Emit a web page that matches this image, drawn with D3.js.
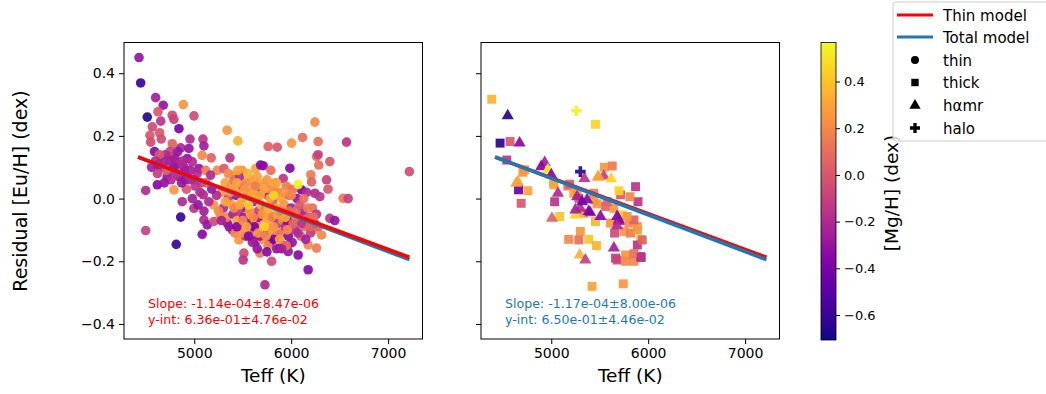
<!DOCTYPE html>
<html>
<head>
<meta charset="utf-8">
<script src="https://cdn.jsdelivr.net/npm/d3@7"></script>
<style>
  body { margin: 0; background: #fff; }
  svg { font-family: "DejaVu Sans", sans-serif; }
</style>
</head>
<body>
<div id="chart"></div>
<script>
// [Teff, residual, [Mg/H]]
const thinPts = [
  [4430,0.45,-0.3],[4447,0.369,-0.6],[4602,0.322,-0.25],[4680,0.298,-0.3],[4887,0.30,0.25],
  [4515,0.26,-0.65],[4626,0.277,0.0],[4654,0.247,-0.15],[4773,0.266,-0.05],[4790,0.253,-0.1],
  [4997,0.264,-0.05],[4842,0.223,-0.4],[4567,0.229,-0.05],[4543,0.202,0.0],[4643,0.21,0.0],
  [4660,0.19,-0.05],[4550,0.18,-0.05],[4956,0.19,-0.2],[5090,0.19,-0.15],[4773,0.175,0.05],
  [4860,0.162,-0.2],[4945,0.16,-0.3],[5100,0.168,-0.25],[5340,0.218,0.25],[5450,0.184,0.35],
  [5175,0.13,0.05],[5082,0.138,0.2],[5368,0.13,-0.15],[4670,0.128,-0.35],[4757,0.133,-0.2],
  [4808,0.117,-0.15],[4619,0.107,-0.4],[4715,0.112,0.2],[4928,0.128,-0.3],[4980,0.117,-0.2],
  [4894,0.10,-0.25],[5048,0.096,-0.3],[5117,0.09,0.15],[5237,0.09,0.2],[5306,0.096,0.0],
  [5169,0.075,-0.2],[5409,0.075,0.3],[5495,0.09,0.25],[5633,0.096,0.3],[5684,0.107,-0.35],
  [5763,0.166,0.05],[5856,0.164,0.0],
  [4499,0.026,-0.2],[4619,0.044,-0.35],[4790,0.028,0.25],[4876,-0.01,-0.2],[4997,-0.031,-0.15],
  [4860,-0.059,-0.6],[4499,-0.102,-0.1],[4814,-0.146,-0.6],[5100,-0.068,-0.2],[5082,-0.114,-0.35],
  [5134,-0.084,-0.3],[5203,-0.073,-0.05],[5272,-0.057,0.2],[5340,-0.078,-0.3],[5461,-0.132,0.25],
  [5512,-0.174,-0.05],[5505,-0.196,-0.15],[5392,-0.1,-0.2],[5581,-0.094,-0.3],[5633,-0.137,-0.3],
  [5729,-0.275,-0.2],[5093,0.012,-0.2],
  [6536,0.001,0.15],[6588,0.0,-0.1],[6399,-0.063,-0.15],[6450,-0.07,-0.3],[6313,-0.116,0.2],
  [6262,-0.158,0.15],[6175,-0.148,0.2],[6072,-0.18,-0.35],[6175,-0.227,-0.35],[5798,-0.2,-0.05],
  [5969,-0.169,-0.3],[5677,-0.174,0.15],[5884,-0.158,-0.35],[5969,-0.148,-0.15],[6227,-0.1,0.2],
  [6245,0.244,0.2],[6571,0.18,-0.15],[6117,0.195,0.1],[6004,0.177,0.25],[6278,0.182,0.1],
  [6262,0.134,0.1],[6278,0.14,-0.1],[6399,0.118,0.0],[6285,0.107,0.1],[5987,0.097,-0.35],
  [5711,0.105,-0.35],[7220,0.086,-0.05],[6203,0.076,0.15],[6365,0.06,-0.1],[6210,0.053,0.05],
  [5918,0.064,-0.15],[5791,0.09,0.1],[6107,0.028,-0.4],[6380,0.03,0.0],[6245,0.017,-0.2],
  [6296,0.006,-0.15],
  // left group along the fit
  [4680,0.10,-0.25],[4720,0.07,-0.3],[4770,0.09,-0.2],[4800,0.13,-0.25],[4840,0.07,-0.3],
  [4880,0.12,-0.2],[4910,0.06,-0.3],[4960,0.09,-0.25],[5000,0.06,-0.3],[5030,0.08,-0.2],
  [5070,0.05,-0.15],[4750,0.15,-0.1],[4830,0.15,-0.3],[4700,0.14,-0.2],[4560,0.10,-0.25],
  [4590,0.15,-0.35],
  // dense cluster
  [5280,0.02,0.25],[5300,-0.03,-0.2],[5320,0.05,0.3],[5330,-0.06,0.2],[5350,0.00,-0.1],
  [5360,-0.09,-0.3],[5380,0.04,0.25],[5390,-0.02,0.3],[5400,-0.05,-0.25],[5410,0.06,0.1],
  [5420,-0.11,0.2],[5430,0.01,-0.3],[5440,-0.07,0.3],[5450,0.03,0.25],[5460,-0.04,-0.15],
  [5470,0.07,-0.2],[5480,-0.09,0.25],[5490,-0.01,0.35],[5500,0.04,0.0],[5510,-0.06,-0.3],
  [5520,0.00,0.3],[5530,-0.12,-0.2],[5540,0.05,0.2],[5550,-0.03,0.3],[5560,-0.08,-0.35],
  [5570,0.02,0.15],[5580,-0.05,0.3],[5590,0.06,0.25],[5600,-0.10,0.1],[5610,-0.01,-0.25],
  [5620,0.03,0.3],[5630,-0.07,0.25],[5640,-0.13,-0.3],[5650,0.00,0.25],[5660,-0.04,-0.1],
  [5670,0.05,0.3],[5680,-0.09,0.2],[5690,-0.02,0.35],[5700,0.02,-0.3],[5710,-0.06,0.3],
  [5720,-0.11,-0.2],[5730,0.04,0.25],[5740,-0.03,0.1],[5750,-0.08,0.3],[5760,0.01,-0.25],
  [5770,-0.05,0.3],[5780,-0.14,-0.3],[5790,0.03,0.2],[5800,-0.10,0.25],[5810,-0.01,0.0],
  [5820,-0.06,-0.3],[5830,0.05,0.3],[5840,-0.12,0.2],[5850,-0.03,0.3],[5860,-0.08,-0.15],
  [5870,0.02,0.25],[5880,-0.05,-0.35],[5890,-0.11,0.1],[5900,0.00,0.3],[5910,-0.07,0.2],
  [5920,-0.15,-0.3],[5930,-0.02,0.25],[5940,-0.09,-0.2],[5950,0.04,0.15],[5960,-0.05,0.3],
  [5970,-0.12,-0.35],[5980,0.01,0.0],[5990,-0.08,0.25],[6000,-0.03,-0.25],[6010,-0.14,-0.3],
  [6020,0.03,0.1],[6030,-0.06,0.2],[6040,-0.10,-0.15],[6060,0.00,-0.3],[6080,-0.07,0.15],
  [6100,-0.12,0.05],[6120,-0.04,-0.25],[6140,-0.09,0.1],[6160,0.02,-0.2],[6180,-0.06,0.0],
  [6200,-0.11,-0.1],[6220,-0.03,0.1],[6240,-0.08,-0.3],[6260,-0.05,-0.15],[6280,-0.09,0.05],
  [5350,0.08,0.2],[5450,0.09,0.3],[5550,0.08,0.35],[5650,0.07,0.3],[5750,0.06,0.25],
  [5850,0.05,0.3],[5700,-0.13,0.25],[5600,-0.14,-0.25],[5500,-0.11,0.25],[5650,-0.16,-0.3],
  [5760,-0.15,0.2],[5850,-0.16,-0.3],[5950,-0.15,0.1],[5280,-0.07,-0.25],[5250,-0.04,0.2],
  [5230,0.01,-0.2],[5200,-0.02,0.25],[5180,0.03,-0.3],[5150,-0.01,-0.2],[5120,0.05,0.0],
  [5100,-0.04,-0.25],[5060,0.02,-0.2],[5040,-0.02,-0.3],[5010,0.04,-0.15],[4980,0.00,-0.25],
  [4950,0.06,-0.2],[4920,0.03,0.0],[4900,0.09,-0.25],[4870,0.05,-0.3],[4850,0.11,-0.2],
  [4820,0.08,-0.15],[4790,0.10,-0.3],[4760,0.06,-0.2],[4740,0.12,-0.25],[4710,0.09,0.05],
  [4690,0.05,-0.3],[4660,0.11,-0.2],[4640,0.14,0.0],[4620,0.08,-0.1],[4600,0.12,-0.2],
  [5560,-0.12,-0.35],[5620,-0.09,-0.4],[5680,-0.12,-0.3],[5750,-0.17,-0.35],[5820,-0.13,-0.4],
  [5900,-0.16,-0.25],[5960,-0.07,-0.35],[5660,-0.06,-0.3],[5540,-0.03,-0.3],[5440,-0.09,-0.35],
  [5320,-0.01,0.3],[5370,0.02,0.25],[5410,-0.03,0.2],[5440,0.05,0.3],[5470,-0.02,0.3],
  [5500,-0.07,0.2],[5520,0.03,0.25],[5540,-0.09,0.3],[5570,-0.04,0.25],[5590,0.01,0.3],
  [5610,-0.06,0.2],[5630,0.04,0.15],[5660,-0.11,0.25],[5680,0.01,0.3],[5700,-0.05,0.25],
  [5720,0.03,0.3],[5740,-0.12,0.2],[5760,-0.03,0.35],[5780,0.00,0.3],[5800,-0.06,0.2],
  [5820,-0.09,0.25],[5840,0.02,0.2],[5860,-0.05,0.3],[5880,-0.13,0.25],[5900,-0.04,0.15],
  [5920,0.02,0.25],[5940,-0.06,0.3],[5960,-0.10,0.2],[5980,-0.04,0.1],[6000,0.01,0.2],
  [6020,-0.08,0.05],[6050,-0.04,0.1],[6070,-0.11,-0.2],[6090,-0.02,0.0],[6110,-0.08,-0.15],
  [6130,0.00,0.1],[6150,-0.13,-0.25],[6170,-0.03,0.15],[6190,-0.09,0.05],[6230,-0.06,0.1],
  [5560,-0.02,0.45],[5720,-0.09,0.45],[5820,0.01,0.45],[6072,0.045,0.55]
];

const thickPts = [
  [4386,0.317,0.35],[4472,0.177,-0.65],[4575,0.182,0.0],[4541,0.123,-0.15],[4724,0.092,0.25],
  [4662,0.028,-0.45],[4759,0.025,0.3],[4689,-0.015,0.0],[5035,-0.01,-0.15],[5028,0.044,0.3],
  [5087,-0.057,0.4],[5456,0.237,0.45],[5549,0.1,0.25],[5629,0.104,0.15],[5170,0.04,0.15],
  [5232,0.017,0.3],[5336,-0.047,0.3],[5456,-0.073,0.35],[5439,0.017,0.15],[5473,-0.017,0.25],
  [5560,-0.025,0.05],[5646,-0.031,0.25],[5715,0.012,0.0],[5698,0.025,0.45],[5870,0.038,-0.15],
  [5895,-0.01,-0.15],[5812,0.006,0.2],[5611,-0.078,0.25],[5733,-0.052,0.45],[5802,-0.078,0.2],
  [5888,-0.089,0.25],[5653,-0.11,-0.05],[5750,-0.105,0.25],[5818,-0.11,0.15],[5922,-0.13,0.4],
  [5180,-0.13,0.2],[5300,-0.105,0.25],[5284,-0.132,0.1],[5387,-0.13,0.4],[5466,-0.15,0.35],
  [5680,-0.196,-0.05],[5767,-0.18,0.25],[5767,-0.2,0.2],[5853,-0.2,0.2],[5922,-0.185,-0.2],
  [5853,-0.176,0.1],[5421,-0.28,0.3],[5743,-0.272,0.25],[5663,-0.19,-0.1],[5888,-0.148,-0.15],
  [5853,-0.068,0.05],[5783,-0.057,0.25],[5577,-0.01,0.05],[5439,-0.004,0.25],[5266,0.017,0.25],
  [5284,0.001,0.0],[4707,0.084,0.25],[5025,0.049,0.3],[5190,0.046,0.0],[5929,-0.188,-0.15],
  [5939,-0.132,0.05],[5888,-0.1,0.25]
];

const hamrPts = [
  [4551,0.264,-0.65],[4673,0.177,-0.35],[4932,0.115,-0.25],[4896,0.102,-0.35],[4966,0.092,0.5],
  [5000,0.076,-0.35],[4655,0.054,0.3],[5069,0.017,-0.2],[5007,-0.063,0.05],[5342,0.064,-0.15],
  [5480,0.07,0.3],[5542,0.072,-0.1],[5618,0.063,0.45],[5266,0.006,-0.25],[5370,-0.004,-0.35],
  [5300,-0.031,-0.2],[5249,-0.052,0.45],[5404,-0.045,-0.25],[5508,-0.057,-0.35],[5680,-0.057,-0.4],
  [5698,-0.073,-0.2],[5294,-0.18,0.35],[5352,-0.196,-0.1],[5646,-0.158,-0.25],[4638,0.049,0.3],
  [5491,0.068,0.3],[5318,-0.01,-0.4],[5249,-0.036,-0.25],[5387,-0.041,-0.4],[5698,-0.068,-0.35],
  [5680,-0.087,-0.2]
];

const haloPts = [[5259,0.28,0.55],[5300,0.086,-0.65]];

// fits: [slope, intercept]
const thinFit = [-1.14e-4, 0.636];
const totalFit = [-1.17e-4, 0.650];
const fitTeff = [4420, 7220];
const thinText = ["Slope: -1.14e-04\u00b18.47e-06", "y-int: 6.36e-01\u00b14.76e-02"];
const totalText = ["Slope: -1.17e-04\u00b18.00e-06", "y-int: 6.50e-01\u00b14.46e-02"];

const xTicks = [5000, 6000, 7000];
const yTicks = [-0.4, -0.2, 0.0, 0.2, 0.4];
const cbTicks = [-0.6, -0.4, -0.2, 0.0, 0.2, 0.4];
const legendLabels = ["Thin model", "Total model", "thin", "thick", "h\u03b1mr", "halo"];

const W = 1046, H = 394;
const RED = "#ff0000", BLUE = "#1f77b4";
const fmt = d => d3.format(".1f")(d).replace("-", "\u2212");

const svg = d3.select("#chart").append("svg").attr("width", W).attr("height", H);

const panels = [
  { left: 124, labels: true, text: thinText, tcol: RED, tx: 148, redTop: true },
  { left: 481, labels: false, text: totalText, tcol: BLUE, tx: 505, redTop: false }
];
const pw = 298.5, axTop = 42.5, ph = 296.5;

const color = d3.scaleSequential(d3.interpolatePlasma).domain([-0.707, 0.567]);
const rightSets = [thickPts, hamrPts, haloPts];
const shapes = [d3.symbolSquare, d3.symbolTriangle, d3.symbolCross];
const sizes = [80, 64, 62];

panels.forEach((p, pi) => {
  const x = d3.scaleLinear().domain([4275, 7355]).range([0, pw]);
  const y = d3.scaleLinear().domain([-0.448, 0.498]).range([ph, 0]);
  const g = svg.append("g").attr("transform", `translate(${p.left},${axTop})`);

  if (pi === 0) {
    g.selectAll("circle").data(thinPts).enter().append("circle")
      .attr("cx", d => x(d[0])).attr("cy", d => y(d[1])).attr("r", 4.8)
      .attr("fill", d => color(d[2])).attr("fill-opacity", 0.92);
  } else {
    rightSets.forEach((arr, k) => {
      g.selectAll(".s" + k).data(arr).enter().append("path")
        .attr("class", "s" + k)
        .attr("d", d3.symbol().type(shapes[k]).size(sizes[k]))
        .attr("transform", d => `translate(${x(d[0])},${y(d[1])})`)
        .attr("fill", d => color(d[2])).attr("fill-opacity", 0.92);
    });
  }

  const line = fit => d3.line()(fitTeff.map(t => [x(t), y(fit[0] * t + fit[1])]));
  const order = p.redTop ? [[totalFit, BLUE], [thinFit, RED]] : [[thinFit, RED], [totalFit, BLUE]];
  order.forEach(o => {
    g.append("path").attr("d", line(o[0])).attr("stroke", o[1])
      .attr("stroke-width", 3.6).attr("fill", "none");
  });

  p.text.forEach((t, i) => {
    g.append("text").attr("x", p.tx - p.left).attr("y", 265.5 + i * 15.5)
      .attr("fill", p.tcol).attr("font-size", 12.6).text(t);
  });

  g.append("rect").attr("width", pw).attr("height", ph)
    .attr("fill", "none").attr("stroke", "#000").attr("stroke-width", 1);

  const xa = g.append("g").attr("transform", `translate(0,${ph})`)
    .call(d3.axisBottom(x).tickValues(xTicks).tickSize(5).tickPadding(4).tickFormat(d3.format("d")));
  const ya = g.append("g")
    .call(d3.axisLeft(y).tickValues(yTicks).tickSize(5).tickPadding(4).tickFormat(p.labels ? fmt : ""));
  [xa, ya].forEach(a => {
    a.select(".domain").remove();
    a.selectAll("text").attr("font-size", 14).attr("font-family", "DejaVu Sans").attr("fill", "#000");
    a.selectAll("line").attr("stroke", "#000");
  });

  g.append("text").attr("x", pw / 2).attr("y", 339).attr("text-anchor", "middle")
    .attr("font-size", 18.5).text("Teff (K)");
});

svg.append("text").attr("transform", "translate(27,191) rotate(-90)")
  .attr("text-anchor", "middle").attr("font-size", 19).text("Residual [Eu/H] (dex)");

// colorbar
const cbX = 821, cbW = 15, cbTop = 42.5, cbH = 297.5;
const cy = d3.scaleLinear().domain([-0.707, 0.567]).range([cbTop + cbH, cbTop]);
const grad = svg.append("defs").append("linearGradient").attr("id", "cbg")
  .attr("x1", 0).attr("y1", 1).attr("x2", 0).attr("y2", 0);
d3.range(0, 1.0001, 0.02).forEach(t => {
  grad.append("stop").attr("offset", t).attr("stop-color", d3.interpolatePlasma(t));
});
svg.append("rect").attr("x", cbX).attr("y", cbTop).attr("width", cbW).attr("height", cbH)
  .attr("fill", "url(#cbg)").attr("stroke", "#000").attr("stroke-width", 0.8);
const cba = svg.append("g").attr("transform", `translate(${cbX + cbW},0)`)
  .call(d3.axisRight(cy).tickValues(cbTicks).tickSize(4).tickPadding(4).tickFormat(fmt));
cba.select(".domain").remove();
cba.selectAll("text").attr("font-size", 13).attr("font-family", "DejaVu Sans").attr("fill", "#000");
cba.selectAll("line").attr("stroke", "#000");
svg.append("text").attr("transform", "translate(898,193) rotate(-90)")
  .attr("text-anchor", "middle").attr("font-size", 18.5).text("[Mg/H] (dex)");

// legend
const lg = svg.append("g").attr("transform", "translate(893,2)");
lg.append("rect").attr("width", 170).attr("height", 139).attr("rx", 3)
  .attr("fill", "#fff").attr("fill-opacity", 0.8).attr("stroke", "#ccc");
const legendShapes = [null, null, d3.symbolCircle, d3.symbolSquare, d3.symbolTriangle, d3.symbolCross];
const legendY = [13, 35, 58, 80.5, 103.5, 126];
legendLabels.forEach((lab, i) => {
  const yy = legendY[i];
  if (i < 2) {
    lg.append("line").attr("x1", 4).attr("x2", 40).attr("y1", yy).attr("y2", yy)
      .attr("stroke", i === 0 ? RED : BLUE).attr("stroke-width", 3);
  } else {
    lg.append("path").attr("d", d3.symbol().type(legendShapes[i]).size(i === 2 ? 50 : 55))
      .attr("transform", `translate(22,${yy})`).attr("fill", "#000");
  }
  lg.append("text").attr("x", 50).attr("y", yy + 5.5).attr("font-size", 15).text(lab);
});
</script>
</body>
</html>
